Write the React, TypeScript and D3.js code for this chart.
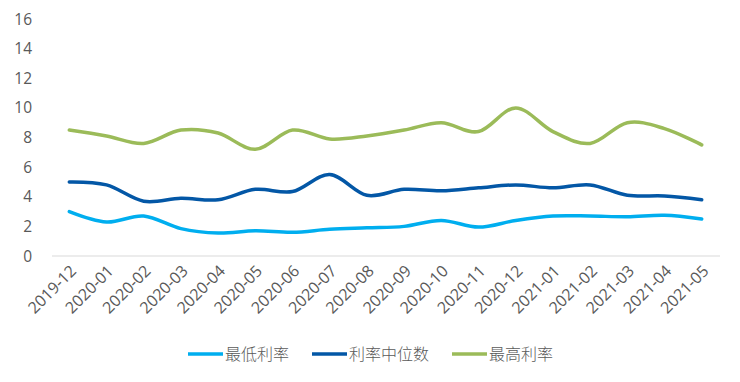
import React from "react";
import * as d3 from "d3";

const categories = ["2019-12","2020-01","2020-02","2020-03","2020-04","2020-05","2020-06","2020-07","2020-08","2020-09","2020-10","2020-11","2020-12","2021-01","2021-02","2021-03","2021-04","2021-05"];
const minRate = [3.0,2.3,2.7,1.85,1.55,1.7,1.6,1.8,1.9,2.0,2.4,1.95,2.4,2.7,2.7,2.65,2.75,2.5];
const medianRate = [5.0,4.8,3.7,3.9,3.8,4.5,4.35,5.5,4.1,4.5,4.4,4.6,4.8,4.6,4.8,4.1,4.05,3.8];
const maxRate = [8.5,8.1,7.6,8.5,8.3,7.2,8.5,7.9,8.1,8.5,9.0,8.4,10.0,8.4,7.6,9.0,8.6,7.5];
const yTicks = [0,2,4,6,8,10,12,14,16];
const seriesNames = ["最低利率","利率中位数","最高利率"];
const seriesColors = ["#00AEEF","#0357A6","#9BBB59"];

export default function App() {
  const W = 740, H = 382;
  const x = d3.scaleBand<string>().domain(categories).range([50.7, 720.3]);
  const y = d3.scaleLinear().domain([0, 16]).range([256, 19]);
  const cx = (c: string) => (x(c) as number) + x.bandwidth() / 2;
  const line = d3.line<number>()
    .x((_, i) => cx(categories[i]))
    .y((d) => y(d))
    .curve(d3.curveCatmullRom.alpha(0));
  const series = [minRate, medianRate, maxRate];
  const font = "'Open Sans', 'Noto Sans CJK SC', sans-serif";
  const legendX = [188, 312, 452];
  return (
    <svg width={W} height={H} style={{ position: "absolute", left: 0, top: 0, background: "#fff" }} fontFamily={font}>
      <line x1={52} x2={720} y1={256} y2={256} stroke="#d9d9d9" strokeWidth={1} />
      {yTicks.map((t) => (
        <text key={t} x={32} y={y(t)} dy="0.36em" textAnchor="end" fontSize={15.5} fill="#595959">{t}</text>
      ))}
      {categories.map((c) => (
        <text key={c} transform={`translate(${cx(c) + 8},${272}) rotate(-45)`} textAnchor="end" fontSize={16} fill="#595959">{c}</text>
      ))}
      {series.map((s, k) => (
        <path key={k} d={line(s) || ""} fill="none" stroke={seriesColors[k]} strokeWidth={3.5} strokeLinecap="round" />
      ))}
      {seriesNames.map((n, k) => (
        <g key={n}>
          <line x1={legendX[k]} x2={legendX[k] + 35} y1={354} y2={354} stroke={seriesColors[k]} strokeWidth={3.5} />
          <text x={legendX[k] + 37} y={354} dy="0.36em" fontSize={16} fill="#595959" fontWeight={300} fontFamily="'Noto Sans CJK SC', sans-serif">{n}</text>
        </g>
      ))}
    </svg>
  );
}
